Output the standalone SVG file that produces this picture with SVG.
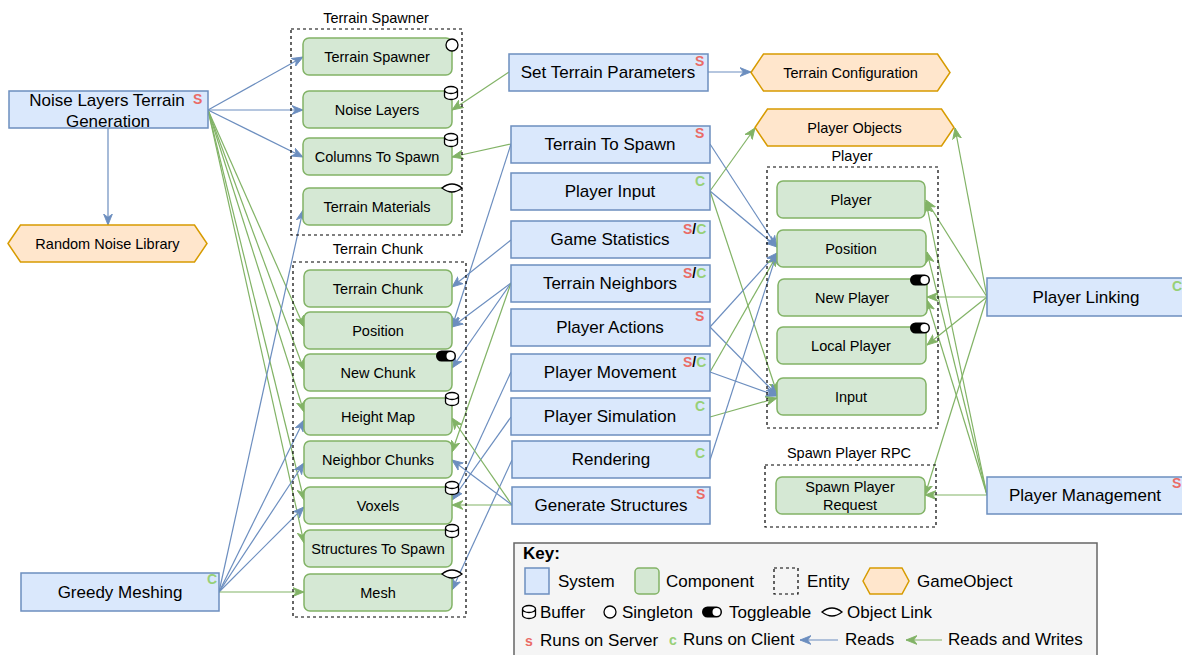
<svg xmlns="http://www.w3.org/2000/svg" width="1182" height="655" viewBox="0 0 1182 655">
<style>
text{font-family:"Liberation Sans",Arial,sans-serif;fill:#000}
.sys{fill:#dae8fc;stroke:#6c8ebf;stroke-width:1.5}
.cmp{fill:#d5e8d4;stroke:#82b366;stroke-width:1.5}
.go{fill:#ffe6cc;stroke:#d79b00;stroke-width:1.5}
.ent{fill:none;stroke:#000;stroke-width:1.2;stroke-dasharray:3 3}
.ts{font-size:17px;text-anchor:middle}
.tc{font-size:14.5px;text-anchor:middle}
.tl{font-size:14.5px;text-anchor:middle}
.tk{font-size:17px}
.s{fill:#ea6b66;font-size:14px;font-weight:bold}
.c{fill:#97d077;font-size:14px;font-weight:bold}
.sl{fill:#000;font-size:14px;font-weight:bold}
.b{fill:none;stroke:#6c8ebf;stroke-width:1.2;marker-end:url(#ab)}
.g{fill:none;stroke:#82b366;stroke-width:1.2;marker-end:url(#ag)}
.ico{fill:#fff;stroke:#000;stroke-width:1.3}
</style>
<defs>
<marker id="ab" viewBox="0 0 10 10" refX="10" refY="5" markerWidth="11" markerHeight="11" orient="auto" markerUnits="userSpaceOnUse"><path d="M0,1 L10,5 L0,9 L3,5 Z" fill="#6c8ebf" stroke="#6c8ebf" stroke-width="0.8"/></marker>
<marker id="ag" viewBox="0 0 10 10" refX="10" refY="5" markerWidth="11" markerHeight="11" orient="auto" markerUnits="userSpaceOnUse"><path d="M0,1 L10,5 L0,9 L3,5 Z" fill="#82b366" stroke="#82b366" stroke-width="0.8"/></marker>
<g id="buf"><path class="ico" d="M-6.5,-3 v6 a6.5,3.5 0 0 0 13,0 v-6 a6.5,3.5 0 0 0 -13,0 a6.5,3.5 0 0 0 13,0"/></g>
<g id="single"><circle class="ico" r="6" stroke-width="1.5"/></g>
<g id="tog"><rect x="-10" y="-5.5" width="20" height="11" rx="5.5" fill="#000"/><circle cx="4.5" cy="0" r="4" fill="#fff"/></g>
<g id="link"><path class="ico" d="M-10,0 Q0,-8 10,0 Q0,8 -10,0 Z"/></g>
</defs>

<!-- connectors -->
<g id="connectors">
<path class="b" d="M208,110 L303,57"/>
<path class="b" d="M208,110 L303,110"/>
<path class="b" d="M208,110 L303,157"/>
<path class="b" d="M108,128 L108,225"/>
<path class="b" d="M708,72 L751,72"/>
<path class="g" d="M208,110 L304,327"/>
<path class="g" d="M208,110 L304,370"/>
<path class="g" d="M208,110 L304,412"/>
<path class="g" d="M208,110 L304,500"/>
<path class="g" d="M208,110 L304,543"/>
<path class="b" d="M219,592 L303,210"/>
<path class="b" d="M219,592 L304,420"/>
<path class="b" d="M219,592 L304,463"/>
<path class="b" d="M219,592 L304,507"/>
<path class="g" d="M219,592 L304,592"/>
<path class="g" d="M509,72 L452,110"/>
<path class="g" d="M511,144 L452,157"/>
<path class="b" d="M511,144 L452,327"/>
<path class="b" d="M511,240 L452,287"/>
<path class="b" d="M511,283 L452,327"/>
<path class="b" d="M511,283 L452,368"/>
<path class="g" d="M511,283 L452,452"/>
<path class="b" d="M511,372 L452,500"/>
<path class="b" d="M511,417 L452,500"/>
<path class="b" d="M512,460 L452,590"/>
<path class="g" d="M512,505 L452,505"/>
<path class="g" d="M512,505 L452,418"/>
<path class="b" d="M512,505 L452,460"/>
<path class="b" d="M710,144 L777,247"/>
<path class="b" d="M710,191 L777,247"/>
<path class="g" d="M710,191 L755,128"/>
<path class="g" d="M710,191 L777,393"/>
<path class="b" d="M710,327 L777,253"/>
<path class="b" d="M710,327 L777,395"/>
<path class="g" d="M710,372 L777,255"/>
<path class="b" d="M710,372 L777,396"/>
<path class="g" d="M710,417 L777,398"/>
<path class="b" d="M710,460 L777,253"/>
<path class="g" d="M987,297 L926,200"/>
<path class="g" d="M987,297 L927,297"/>
<path class="g" d="M987,297 L927,345"/>
<path class="g" d="M987,297 L955,128"/>
<path class="g" d="M987,297 L925,495"/>
<path class="g" d="M987,495 L925,495"/>
<path class="g" d="M987,495 L926,202"/>
<path class="g" d="M987,495 L927,252"/>
<path class="g" d="M987,495 L927,300"/>
</g>

<!-- entities -->
<g id="ent-terrain-spawner"><rect class="ent" x="291" y="29" width="171" height="206"/><text class="tl" x="376" y="23">Terrain Spawner</text></g>
<g id="ent-terrain-chunk"><rect class="ent" x="293" y="262" width="173" height="355"/><text class="tl" x="378" y="254">Terrain Chunk</text></g>
<g id="ent-player"><rect class="ent" x="767" y="167" width="171" height="261"/><text class="tl" x="852" y="161">Player</text></g>
<g id="ent-spawn-rpc"><rect class="ent" x="765" y="465" width="171" height="62"/><text class="tl" x="849" y="458">Spawn Player RPC</text></g>

<!-- components: terrain spawner -->
<g id="c-terrain-spawner"><rect class="cmp" x="303" y="38" width="149" height="37" rx="6"/><text class="tc" x="377" y="62">Terrain Spawner</text><use href="#single" x="452" y="45"/></g>
<g id="c-noise-layers"><rect class="cmp" x="303" y="91" width="149" height="37" rx="6"/><text class="tc" x="377" y="115">Noise Layers</text><use href="#buf" x="451" y="93"/></g>
<g id="c-columns"><rect class="cmp" x="303" y="138" width="149" height="37" rx="6"/><text class="tc" x="377" y="162">Columns To Spawn</text><use href="#buf" x="451" y="140"/></g>
<g id="c-materials"><rect class="cmp" x="303" y="188" width="149" height="37" rx="6"/><text class="tc" x="377" y="212">Terrain Materials</text><use href="#link" x="452" y="188"/></g>

<!-- components: terrain chunk -->
<g id="c-terrain-chunk"><rect class="cmp" x="304" y="270" width="148" height="37" rx="6"/><text class="tc" x="378" y="294">Terrain Chunk</text></g>
<g id="c-position"><rect class="cmp" x="304" y="312" width="148" height="37" rx="6"/><text class="tc" x="378" y="336">Position</text></g>
<g id="c-new-chunk"><rect class="cmp" x="304" y="354" width="148" height="37" rx="6"/><text class="tc" x="378" y="378">New Chunk</text><use href="#tog" x="446" y="356"/></g>
<g id="c-height-map"><rect class="cmp" x="304" y="398" width="148" height="37" rx="6"/><text class="tc" x="378" y="422">Height Map</text><use href="#buf" x="452" y="399"/></g>
<g id="c-neighbor-chunks"><rect class="cmp" x="304" y="441" width="148" height="37" rx="6"/><text class="tc" x="378" y="465">Neighbor Chunks</text></g>
<g id="c-voxels"><rect class="cmp" x="304" y="487" width="148" height="37" rx="6"/><text class="tc" x="378" y="511">Voxels</text><use href="#buf" x="452" y="488"/></g>
<g id="c-structures"><rect class="cmp" x="304" y="530" width="148" height="37" rx="6"/><text class="tc" x="378" y="554">Structures To Spawn</text><use href="#buf" x="452" y="531"/></g>
<g id="c-mesh"><rect class="cmp" x="304" y="574" width="148" height="37" rx="6"/><text class="tc" x="378" y="598">Mesh</text><use href="#link" x="452" y="574"/></g>

<!-- components: player -->
<g id="c-player"><rect class="cmp" x="777" y="181" width="148" height="37" rx="6"/><text class="tc" x="851" y="205">Player</text></g>
<g id="c-player-position"><rect class="cmp" x="777" y="230" width="149" height="37" rx="6"/><text class="tc" x="851" y="254">Position</text></g>
<g id="c-new-player"><rect class="cmp" x="778" y="279" width="149" height="37" rx="6"/><text class="tc" x="852" y="303">New Player</text><use href="#tog" x="920" y="280"/></g>
<g id="c-local-player"><rect class="cmp" x="777" y="327" width="149" height="37" rx="6"/><text class="tc" x="851" y="351">Local Player</text><use href="#tog" x="920" y="328"/></g>
<g id="c-input"><rect class="cmp" x="777" y="378" width="149" height="37" rx="6"/><text class="tc" x="851" y="402">Input</text></g>
<g id="c-spawn-request"><rect class="cmp" x="776" y="477" width="149" height="37" rx="6"/><text class="tc" x="850" y="492">Spawn Player</text><text class="tc" x="850" y="510">Request</text></g>

<!-- game objects -->
<g id="go-random-noise"><path class="go" d="M8,243.5 L20.5,225 L194.5,225 L207,243.5 L194.5,262 L20.5,262 Z"/><text class="tc" x="107.5" y="248.5">Random Noise Library</text></g>
<g id="go-terrain-config"><path class="go" d="M751,72.5 L763.5,54 L937.5,54 L950,72.5 L937.5,91 L763.5,91 Z"/><text class="tc" x="850.5" y="77.5">Terrain Configuration</text></g>
<g id="go-player-objects"><path class="go" d="M755,127.5 L767.5,109 L941.5,109 L954,127.5 L941.5,146 L767.5,146 Z"/><text class="tc" x="854.5" y="132.5">Player Objects</text></g>

<!-- systems -->
<g id="s-noise-gen"><rect class="sys" x="9" y="91" width="199" height="37"/><text class="ts" x="107" y="106">Noise Layers Terrain</text><text class="ts" x="108" y="127">Generation</text><text class="s" x="193" y="104">S</text></g>
<g id="s-greedy"><rect class="sys" x="21" y="573" width="198" height="38"/><text class="ts" x="120" y="598">Greedy Meshing</text><text class="c" x="207" y="584">C</text></g>
<g id="s-set-terrain"><rect class="sys" x="509" y="54" width="199" height="37"/><text class="ts" x="608" y="78">Set Terrain Parameters</text><text class="s" x="695" y="66">S</text></g>
<g id="s-terrain-to-spawn"><rect class="sys" x="511" y="126" width="199" height="37"/><text class="ts" x="610" y="150">Terrain To Spawn</text><text class="s" x="695" y="138">S</text></g>
<g id="s-player-input"><rect class="sys" x="511" y="173" width="199" height="37"/><text class="ts" x="610" y="197">Player Input</text><text class="c" x="695" y="186">C</text></g>
<g id="s-game-stats"><rect class="sys" x="511" y="221" width="199" height="37"/><text class="ts" x="610" y="245">Game Statistics</text><text x="683" y="234"><tspan class="s">S</tspan><tspan class="sl">/</tspan><tspan class="c">C</tspan></text></g>
<g id="s-terrain-neighbors"><rect class="sys" x="511" y="265" width="199" height="37"/><text class="ts" x="610" y="289">Terrain Neighbors</text><text x="683" y="278"><tspan class="s">S</tspan><tspan class="sl">/</tspan><tspan class="c">C</tspan></text></g>
<g id="s-player-actions"><rect class="sys" x="511" y="309" width="199" height="37"/><text class="ts" x="610" y="333">Player Actions</text><text class="s" x="695" y="321">S</text></g>
<g id="s-player-movement"><rect class="sys" x="511" y="354" width="199" height="37"/><text class="ts" x="610" y="378">Player Movement</text><text x="683" y="367"><tspan class="s">S</tspan><tspan class="sl">/</tspan><tspan class="c">C</tspan></text></g>
<g id="s-player-sim"><rect class="sys" x="511" y="398" width="199" height="37"/><text class="ts" x="610" y="422">Player Simulation</text><text class="c" x="695" y="411">C</text></g>
<g id="s-rendering"><rect class="sys" x="512" y="441" width="198" height="37"/><text class="ts" x="611" y="465">Rendering</text><text class="c" x="695" y="458">C</text></g>
<g id="s-generate-structures"><rect class="sys" x="512" y="487" width="198" height="37"/><text class="ts" x="611" y="511">Generate Structures</text><text class="s" x="696" y="499">S</text></g>
<g id="s-player-linking"><rect class="sys" x="987" y="278" width="200" height="38"/><text class="ts" x="1086" y="303">Player Linking</text><text class="c" x="1172" y="291">C</text></g>
<g id="s-player-management"><rect class="sys" x="987" y="477" width="200" height="37"/><text class="ts" x="1085" y="501">Player Management</text><text class="s" x="1172" y="488">S</text></g>

<!-- key -->
<g id="key">
<rect x="514" y="543" width="583" height="125" fill="#f5f5f5" stroke="#666" stroke-width="1.5"/>
<text class="tk" x="523" y="559" font-weight="bold">Key:</text>
<rect class="sys" x="525" y="568" width="24" height="26"/>
<text class="tk" x="558" y="587">System</text>
<rect class="cmp" x="635" y="568" width="24" height="26" rx="4"/>
<text class="tk" x="666" y="587">Component</text>
<rect class="ent" x="774" y="568" width="24" height="26"/>
<text class="tk" x="807" y="587">Entity</text>
<path class="go" d="M863,581 L870,568 L902,568 L909,581 L902,594 L870,594 Z"/>
<text class="tk" x="917" y="587">GameObject</text>
<use href="#buf" x="529" y="612"/>
<text class="tk" x="540" y="618">Buffer</text>
<use href="#single" x="610" y="612"/>
<text class="tk" x="622" y="618">Singleton</text>
<use href="#tog" x="712" y="612"/>
<text class="tk" x="729" y="618">Toggleable</text>
<use href="#link" x="832" y="612"/>
<text class="tk" x="847" y="618">Object Link</text>
<text class="s" x="525" y="646">s</text>
<text class="tk" x="540" y="646">Runs on Server</text>
<text class="c" x="669" y="645">c</text>
<text class="tk" x="683" y="645">Runs on Client</text>
<path class="b" d="M838,640 L800,640"/>
<text class="tk" x="845" y="645">Reads</text>
<path class="g" d="M942,640 L906,640"/>
<text class="tk" x="948" y="645">Reads and Writes</text>
</g>
</svg>
